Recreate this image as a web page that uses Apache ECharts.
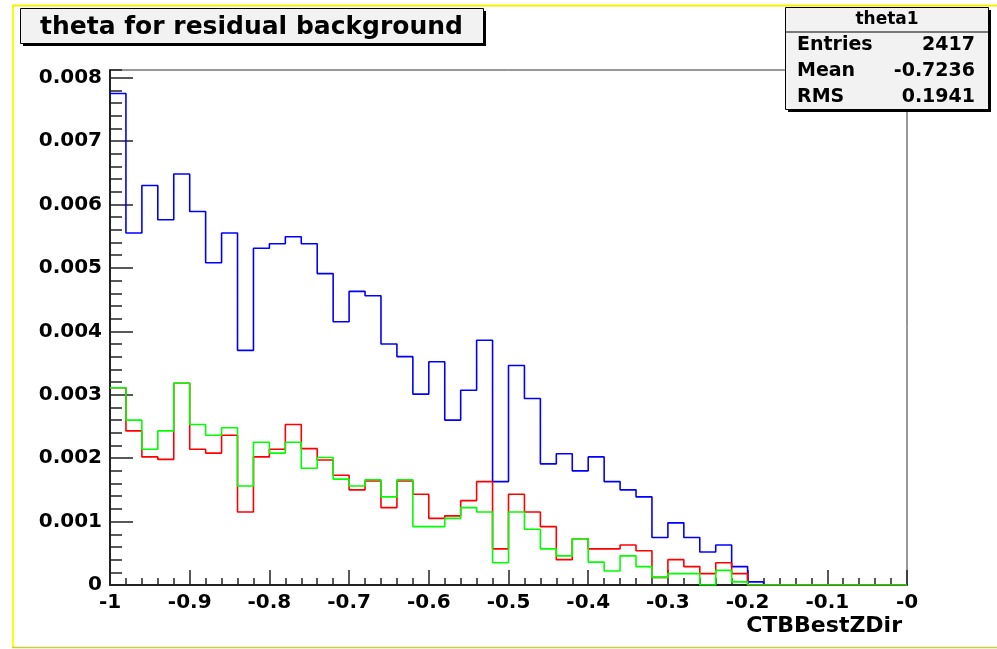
<!DOCTYPE html>
<html>
<head>
<meta charset="utf-8">
<script src="https://cdn.jsdelivr.net/npm/echarts@6/dist/echarts.min.js"></script>
<style>
  html, body { margin: 0; padding: 0; background: #ffffff; }
  #chart { width: 997px; height: 649px; }
</style>
</head>
<body>
<div id="chart"></div>
<script>
// Histogram binning: 50 bins of width 0.02 from -1 to 0
const xMin = -1;
const xMax = 0;
const binWidth = 0.02;
const nBins = 50;

// Bin contents (normalized) for the three samples
const blueVals = [
  0.00775, 0.00555, 0.00630, 0.00576, 0.00648, 0.00589, 0.00508, 0.00555, 0.00370, 0.00531,
  0.00538, 0.00549, 0.00538, 0.00491, 0.00415, 0.00463, 0.00456, 0.00380, 0.00360, 0.00301,
  0.00352, 0.00260, 0.00307, 0.00386, 0.00163, 0.00346, 0.00294, 0.00191, 0.00207, 0.00180,
  0.00202, 0.00163, 0.00150, 0.00139, 0.00075, 0.00098, 0.00075, 0.00052, 0.00063, 0.00029,
  0.00005, 0, 0, 0, 0, 0, 0, 0, 0, 0
];
const redVals = [
  0.00311, 0.00243, 0.00202, 0.00198, 0.00318, 0.00214, 0.00208, 0.00236, 0.00115, 0.00202,
  0.00214, 0.00253, 0.00215, 0.00197, 0.00173, 0.00150, 0.00164, 0.00122, 0.00164, 0.00143,
  0.00105, 0.00109, 0.00133, 0.00163, 0.00057, 0.00143, 0.00115, 0.00092, 0.00040, 0.00073,
  0.00057, 0.00057, 0.00063, 0.00054, 0.00012, 0.00040, 0.00029, 0.00018, 0.00035, 0.00018,
  0, 0, 0, 0, 0, 0, 0, 0, 0, 0
];
const greenVals = [
  0.00311, 0.00260, 0.00214, 0.00243, 0.00318, 0.00253, 0.00236, 0.00248, 0.00156, 0.00225,
  0.00208, 0.00225, 0.00184, 0.00201, 0.00167, 0.00156, 0.00166, 0.00139, 0.00166, 0.00092,
  0.00092, 0.00105, 0.00122, 0.00115, 0.00035, 0.00115, 0.00088, 0.00057, 0.00046, 0.00073,
  0.00036, 0.00022, 0.00046, 0.00029, 0.00012, 0.00018, 0.00018, 0, 0.00023, 0.00005,
  0, 0, 0, 0, 0, 0, 0, 0, 0, 0
];

// Axis settings
const yMax = 0.00812;
const yMajor = 0.001;
const yMinor = 0.0002;
const xMajor = 0.1;

// Text content
const titleText = 'theta for residual background';
const xAxisTitle = 'CTBBestZDir';
const statsName = 'theta1';
const statsRows = [
  ['Entries', '2417'],
  ['Mean', '-0.7236'],
  ['RMS', '0.1941']
];

const FONT = 'DejaVu Sans';
const plotBox = { left: 110, right: 90, top: 70, bottom: 64 };

// Turn bin contents into step-line points at the bin edges
function histPoints(vals) {
  const pts = [];
  for (let i = 0; i < nBins; i++) {
    pts.push([+(xMin + i * binWidth).toFixed(4), vals[i]]);
  }
  pts.push([xMax, vals[nBins - 1]]);
  return pts;
}

function histSeries(vals, color) {
  return {
    type: 'line',
    step: 'end',
    data: histPoints(vals),
    symbol: 'none',
    silent: true,
    lineStyle: { color: color, width: 1.6 },
    xAxisIndex: 0,
    yAxisIndex: 0
  };
}

const chart = echarts.init(document.getElementById('chart'), null, { renderer: 'canvas' });

const statsGraphics = [];
statsRows.forEach(function (row, i) {
  const y = 45 + i * 26;
  statsGraphics.push({
    type: 'text', z: 102, x: 797, y: y,
    style: { text: row[0], font: 'bold 19px "' + FONT + '"', fill: '#000', align: 'left', verticalAlign: 'middle' }
  });
  statsGraphics.push({
    type: 'text', z: 102, x: 975, y: y,
    style: { text: row[1], font: 'bold 19px "' + FONT + '"', fill: '#000', align: 'right', verticalAlign: 'middle' }
  });
});

chart.setOption({
  animation: false,
  backgroundColor: '#ffffff',
  grid: [
    Object.assign({ show: true, borderColor: '#333', borderWidth: 1, backgroundColor: 'transparent' }, plotBox),
    // same frame, used only for the minor tick marks of the vertical axis
    Object.assign({ show: false }, plotBox)
  ],
  xAxis: [{
    type: 'value',
    gridIndex: 0,
    position: 'bottom',
    min: xMin, max: xMax, interval: xMajor,
    axisLine: { show: true, onZero: false, lineStyle: { color: '#222', width: 2 } },
    axisTick: { show: true, inside: true, length: 15, lineStyle: { color: '#222', width: 1.5 } },
    minorTick: { show: true, splitNumber: 5, length: 7, lineStyle: { color: '#222', width: 1.5 } },
    splitLine: { show: false },
    axisLabel: {
      margin: 8,
      color: '#000',
      fontFamily: FONT, fontWeight: 'bold', fontSize: 20,
      formatter: function (v) {
        if (Math.abs(v) < 1e-9) return '-0';
        if (Math.abs(v + 1) < 1e-9) return '-1';
        return v.toFixed(1);
      }
    },
    name: xAxisTitle,
    nameLocation: 'end',
    nameGap: -5,
    nameTextStyle: {
      color: '#000', fontFamily: FONT, fontWeight: 'bold', fontSize: 22,
      align: 'right', verticalAlign: 'top', padding: [30, 0, 0, 0]
    }
  }, {
    type: 'value',
    gridIndex: 1,
    position: 'bottom',
    min: xMin, max: xMax,
    axisLine: { show: false, onZero: false },
    axisTick: { show: false },
    axisLabel: { show: false },
    splitLine: { show: false }
  }],
  yAxis: [{
    type: 'value',
    gridIndex: 0,
    position: 'left',
    min: 0, max: yMax, interval: yMajor,
    axisLine: { show: true, onZero: false, lineStyle: { color: '#222', width: 2 } },
    axisTick: { show: true, inside: true, length: 23, lineStyle: { color: '#222', width: 1.5 } },
    splitLine: { show: false },
    axisLabel: {
      margin: 8, showMaxLabel: false,
      color: '#000',
      fontFamily: FONT, fontWeight: 'bold', fontSize: 20,
      formatter: function (v) { return v === 0 ? '0' : v.toFixed(3); }
    }
  }, {
    // minor tick marks every 0.0002
    type: 'value',
    gridIndex: 1,
    position: 'left',
    min: 0, max: yMax, interval: yMinor,
    axisLine: { show: false, onZero: false },
    axisTick: { show: true, inside: true, length: 12, lineStyle: { color: '#222', width: 1.5 } },
    splitLine: { show: false },
    axisLabel: { show: false }
  }],
  series: [
    histSeries(blueVals, '#0000ff'),
    histSeries(redVals, '#ff0000'),
    histSeries(greenVals, '#00ff00')
  ],
  graphic: [
    // canvas frame
    { type: 'line', z: 90, shape: { x1: 13, y1: 5, x2: 13, y2: 648 }, style: { stroke: '#ffff00', lineWidth: 2 } },
    { type: 'line', z: 90, shape: { x1: 12, y1: 5.5, x2: 997, y2: 5.5 }, style: { stroke: '#f2f200', lineWidth: 2 } },
    { type: 'line', z: 90, shape: { x1: 12, y1: 647.5, x2: 997, y2: 647.5 }, style: { stroke: '#cccc40', lineWidth: 1.5 } },
    // title box
    { type: 'rect', z: 100, shape: { x: 23, y: 11, width: 463, height: 35 }, style: { fill: '#000' } },
    { type: 'rect', z: 101, shape: { x: 20.5, y: 8.5, width: 463, height: 35 }, style: { fill: '#f2f2f2', stroke: '#000', lineWidth: 1 } },
    { type: 'text', z: 102, x: 40, y: 27,
      style: { text: titleText, font: 'bold 25px "' + FONT + '"', fill: '#000', verticalAlign: 'middle' } },
    // statistics box
    { type: 'rect', z: 100, shape: { x: 788, y: 10, width: 203, height: 102 }, style: { fill: '#000' } },
    { type: 'rect', z: 101, shape: { x: 785.5, y: 7.5, width: 203, height: 102 }, style: { fill: '#f2f2f2', stroke: '#000', lineWidth: 1 } },
    { type: 'line', z: 102, shape: { x1: 785.5, y1: 32, x2: 988.5, y2: 32 }, style: { stroke: '#000', lineWidth: 1 } },
    { type: 'text', z: 102, x: 887, y: 20,
      style: { text: statsName, font: 'bold 17px "' + FONT + '"', fill: '#000', align: 'center', verticalAlign: 'middle' } }
  ].concat(statsGraphics)
});
</script>
</body>
</html>
